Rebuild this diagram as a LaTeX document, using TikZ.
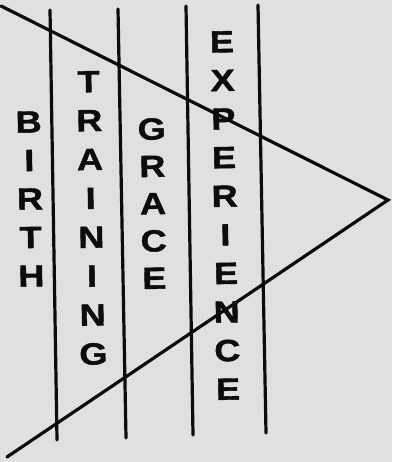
\documentclass[tikz,border=0pt]{standalone}
\usepackage{fontspec}
\setmainfont{Liberation Sans}
\newfontfamily\heavyfont{Liberation Sans Bold}[FakeStretch=1.18, FakeBold=1.3]
\definecolor{paper}{RGB}{224,224,224}
\definecolor{ink}{RGB}{12,12,12}
\tikzset{
  rule/.style={draw=ink, line width=3.2pt, line cap=round},
  word/.style={text=ink, align=center, inner sep=0pt, rotate=1,
    font=\heavyfont\fontsize{30.7}{#1}\selectfont},
}
\begin{document}
\begin{tikzpicture}[x=1pt,y=-1pt]
\fill[paper] (0,0) rectangle (392,462);
\useasboundingbox (0,0) rectangle (392,462);
% arrow (triangle) sides
\coordinate (apex) at (388,200);
\coordinate (tl) at (1,6);
\coordinate (bl) at (7,457);
\draw[rule, line join=miter] (tl) -- (apex) -- (bl);
% column separators
\draw[rule] (50,10) -- (57,440);
\draw[rule] (118,9) -- (126,438);
\draw[rule] (186,6) -- (193,435);
\draw[rule] (258,5) -- (266,433);
% words
\node[word=38.5pt] (birth) at (30,199) {B\\I\\R\\T\\H};
\node[word=38.9pt] (training) at (91,218) {T\\R\\A\\I\\N\\I\\N\\G};
\node[word=37.3pt] (grace) at (153,203.5) {G\\R\\A\\C\\E};
\node[word=38.6pt] (experience) at (225,215.5) {E\\X\\P\\E\\R\\I\\E\\N\\C\\E};
\end{tikzpicture}
\end{document}
